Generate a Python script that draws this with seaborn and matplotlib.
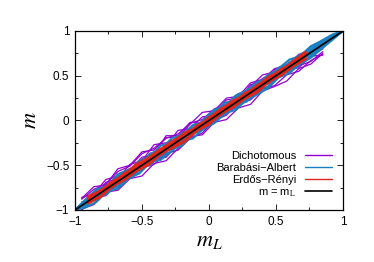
import seaborn as sns
import pandas as pd
import matplotlib.pyplot as plt
from matplotlib.ticker import MultipleLocator

# m_L grids used by each family of networks
grid_dich = [-0.95, -0.86, -0.77, -0.68, -0.59, -0.50, -0.41, -0.32, -0.23, -0.14, -0.05,
             0.04, 0.13, 0.22, 0.31, 0.40, 0.49, 0.58, 0.67, 0.76, 0.85]
grid_ba = [-1.00, -0.92, -0.84, -0.76, -0.68, -0.60, -0.52, -0.44, -0.36, -0.28, -0.20, -0.12, -0.04,
           0.04, 0.12, 0.20, 0.28, 0.36, 0.44, 0.52, 0.60, 0.68, 0.76, 0.84, 0.92, 1.00]
grid_er = [-0.90, -0.81, -0.72, -0.63, -0.54, -0.45, -0.36, -0.27, -0.18, -0.09, 0.00,
           0.09, 0.18, 0.27, 0.36, 0.45, 0.54, 0.63, 0.72]

# Dichotomous runs (m values)
dich_1 = [-0.88, -0.77, -0.71, -0.57, -0.51, -0.37, -0.31, -0.20, -0.15, -0.03, 0.01,
          0.13, 0.18, 0.30, 0.35, 0.47, 0.52, 0.63, 0.68, 0.74, 0.80]
dich_2 = [-0.97, -0.83, -0.81, -0.66, -0.65, -0.53, -0.49, -0.37, -0.33, -0.20, -0.14,
          0.00, 0.06, 0.19, 0.23, 0.35, 0.39, 0.51, 0.55, 0.67, 0.74]
dich_3 = [-0.91, -0.88, -0.69, -0.65, -0.49, -0.45, -0.27, -0.25, -0.21, -0.18, -0.02,
          0.02, 0.19, 0.23, 0.40, 0.42, 0.46, 0.62, 0.61, 0.66, 0.77]
dich_4 = [-0.94, -0.81, -0.75, -0.71, -0.55, -0.41, -0.38, -0.17, -0.17, -0.02, -0.03,
          0.11, 0.10, 0.27, 0.31, 0.36, 0.55, 0.60, 0.72, 0.78, 0.88]
dich_5 = [-1.00, -0.87, -0.84, -0.70, -0.64, -0.48, -0.44, -0.41, -0.27, -0.13, -0.10,
          0.08, 0.23, 0.25, 0.38, 0.51, 0.54, 0.56, 0.59, 0.72, 0.73]
dich_6 = [-0.86, -0.82, -0.66, -0.62, -0.57, -0.43, -0.40, -0.28, -0.11, -0.09, 0.04,
          0.06, 0.14, 0.18, 0.33, 0.38, 0.57, 0.61, 0.74, 0.71, 0.87]
dich_7 = [-0.87, -0.74, -0.72, -0.54, -0.50, -0.35, -0.33, -0.19, -0.19, -0.04, 0.09,
          0.11, 0.25, 0.27, 0.42, 0.46, 0.58, 0.61, 0.73, 0.76, 0.82]
dich_8 = [-0.99, -0.94, -0.80, -0.78, -0.65, -0.62, -0.48, -0.45, -0.31, -0.18, -0.16,
          -0.02, 0.01, 0.14, 0.18, 0.33, 0.38, 0.44, 0.58, 0.63, 0.75]

# Barabasi-Albert runs
ba_1 = [-1.00, -0.94, -0.81, -0.80, -0.66, -0.65, -0.51, -0.50, -0.38, -0.35, -0.23, -0.10, -0.08,
        0.07, 0.10, 0.25, 0.29, 0.42, 0.46, 0.59, 0.63, 0.73, 0.78, 0.88, 0.94, 1.00]
ba_2 = [-1.00, -0.90, -0.87, -0.75, -0.74, -0.62, -0.59, -0.47, -0.35, -0.32, -0.28, -0.15, -0.10,
        0.03, 0.07, 0.18, 0.21, 0.33, 0.38, 0.51, 0.56, 0.69, 0.73, 0.84, 0.91, 1.00]
ba_3 = [-1.00, -0.89, -0.79, -0.74, -0.62, -0.57, -0.45, -0.40, -0.28, -0.25, -0.14, -0.11, 0.01,
        0.12, 0.16, 0.27, 0.31, 0.35, 0.48, 0.52, 0.65, 0.70, 0.82, 0.87, 0.95, 1.00]
ba_4 = [-1.00, -0.96, -0.85, -0.82, -0.71, -0.59, -0.56, -0.42, -0.41, -0.28, -0.16, -0.14, -0.01,
        -0.01, 0.13, 0.14, 0.26, 0.40, 0.41, 0.55, 0.54, 0.66, 0.71, 0.81, 0.91, 1.00]
ba_5 = [-1.00, -0.91, -0.89, -0.73, -0.70, -0.55, -0.50, -0.38, -0.35, -0.23, -0.21, -0.06, -0.02,
        0.09, 0.20, 0.22, 0.34, 0.39, 0.51, 0.56, 0.61, 0.74, 0.79, 0.89, 0.95, 1.00]
ba_6 = [-1.00, -0.88, -0.77, -0.73, -0.60, -0.55, -0.50, -0.37, -0.33, -0.20, -0.16, -0.05, -0.02,
        0.10, 0.15, 0.28, 0.33, 0.43, 0.47, 0.58, 0.68, 0.72, 0.83, 0.89, 0.96, 1.00]
ba_7 = [-1.00, -0.97, -0.91, -0.79, -0.76, -0.65, -0.59, -0.46, -0.44, -0.34, -0.23, -0.20, -0.09,
        -0.03, 0.08, 0.12, 0.23, 0.29, 0.36, 0.48, 0.53, 0.63, 0.70, 0.80, 0.90, 1.00]
ba_8 = [-1.00, -0.90, -0.86, -0.72, -0.68, -0.63, -0.49, -0.45, -0.32, -0.30, -0.18, -0.15, -0.03,
        0.08, 0.11, 0.23, 0.26, 0.38, 0.43, 0.55, 0.60, 0.71, 0.75, 0.86, 0.93, 1.00]

# Erdos-Renyi runs
er_1 = [-0.87, -0.80, -0.68, -0.61, -0.49, -0.42, -0.32, -0.25, -0.14, -0.08,
        0.03, 0.11, 0.22, 0.28, 0.39, 0.47, 0.57, 0.64, 0.74]
er_2 = [-0.92, -0.85, -0.73, -0.66, -0.56, -0.49, -0.37, -0.30, -0.23, -0.11,
        -0.04, 0.08, 0.15, 0.25, 0.32, 0.44, 0.51, 0.61, 0.69]
er_3 = [-0.89, -0.78, -0.72, -0.59, -0.53, -0.43, -0.38, -0.26, -0.18, -0.06,
        0.01, 0.07, 0.19, 0.30, 0.36, 0.47, 0.53, 0.65, 0.72]
er_4 = [-0.85, -0.79, -0.69, -0.63, -0.51, -0.46, -0.33, -0.23, -0.16, -0.10,
        0.02, 0.13, 0.19, 0.30, 0.38, 0.49, 0.55, 0.66, 0.76]
er_5 = [-0.90, -0.79, -0.74, -0.62, -0.55, -0.42, -0.36, -0.29, -0.16, -0.09,
        -0.02, 0.12, 0.18, 0.26, 0.38, 0.43, 0.55, 0.62, 0.73]

diag = [-1.0, 1.0]

families = [
    ("Dichotomous", grid_dich, [dich_1, dich_2, dich_3, dich_4, dich_5, dich_6, dich_7, dich_8],
     "#9400d3", 0.9),
    ("Barabási−Albert", grid_ba, [ba_1, ba_2, ba_3, ba_4, ba_5, ba_6, ba_7, ba_8], "#1a80c0", 1.5),
    ("Erdős−Rényi", grid_er, [er_1, er_2, er_3, er_4, er_5], "#e0261a", 2.2),
]

sns.set_style("ticks")
plt.rcParams["font.family"] = ["Liberation Sans", "DejaVu Sans"]
plt.rcParams["mathtext.fontset"] = "stix"
plt.rcParams["text.color"] = "black"
plt.rcParams["xtick.color"] = "black"
plt.rcParams["ytick.color"] = "black"
plt.rcParams["axes.labelcolor"] = "black"
plt.rcParams["axes.edgecolor"] = "black"

fig = plt.figure(figsize=(3.74, 2.62), dpi=100)
ax = fig.add_axes([0.2005, 0.1985, 0.7165, 0.6832])

for name, grid, runs, color, lw in families:
    rows = []
    for i, run in enumerate(runs):
        for x, y in zip(grid, run):
            rows.append({"mL": x, "m": y, "run": i})
    df = pd.DataFrame(rows)
    sns.lineplot(data=df, x="mL", y="m", units="run", estimator=None, sort=False,
                 color=color, lw=lw, ax=ax, legend=False)
    ax.plot([], [], color=color, lw=1.0, label=name)

sns.lineplot(x=diag, y=diag, color="black", lw=1.2, ax=ax, label="m = m$_{\\mathrm{L}}$")

ax.set_xlim(-1, 1)
ax.set_ylim(-1, 1)
ax.xaxis.set_major_locator(MultipleLocator(0.5))
ax.yaxis.set_major_locator(MultipleLocator(0.5))
ax.xaxis.set_minor_locator(MultipleLocator(0.25))
ax.yaxis.set_minor_locator(MultipleLocator(0.25))
ax.tick_params(which="both", direction="in", top=True, right=True, labelsize=8.5, width=0.6)
ax.tick_params(which="major", length=4, pad=4)
ax.tick_params(which="minor", length=2.5)
ax.xaxis.set_major_formatter(plt.FuncFormatter(lambda v, p: f"{v:g}".replace("-", "\u2212")))
ax.yaxis.set_major_formatter(plt.FuncFormatter(lambda v, p: f"{v:g}".replace("-", "\u2212")))
for s in ax.spines.values():
    s.set_linewidth(0.9)

ax.set_xlabel("$m_L$", fontsize=16, labelpad=2)
ax.set_ylabel("$m$", fontsize=16, labelpad=4)

leg = ax.legend(loc="lower right", frameon=False, markerfirst=False, fontsize=8,
                handlelength=2.4, labelspacing=0.2, borderaxespad=0.6)

fig.savefig("out.png", dpi=100)
